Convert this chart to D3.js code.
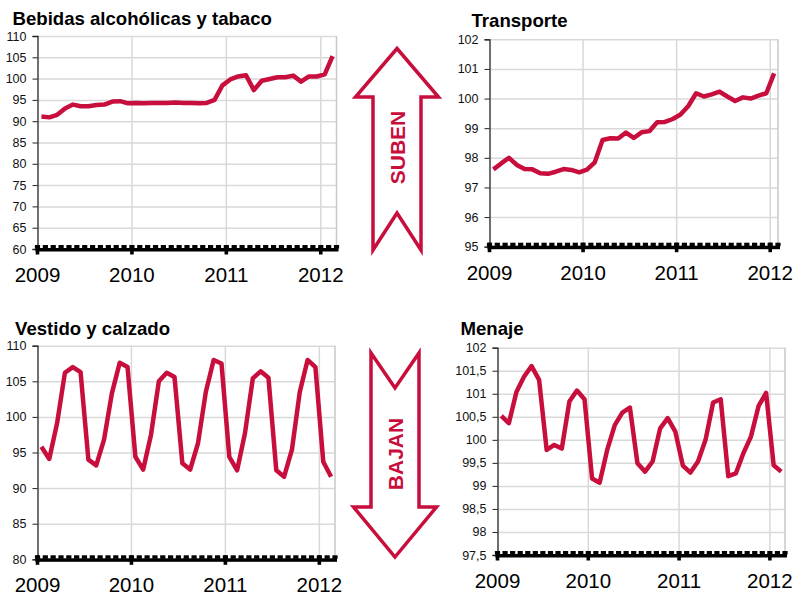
<!DOCTYPE html>
<html>
<head>
<meta charset="utf-8">
<script src="https://cdn.jsdelivr.net/npm/d3@7"></script>
<style>
body{margin:0;background:#fff}
svg{display:block}
text{font-family:"Liberation Sans",Arial,sans-serif}
</style>
</head>
<body>
<div id="chart"></div>
<script>
// monthly index values, Jan 2009 onwards
var years = ["2009", "2010", "2011", "2012"];

var bebidas = [91.1, 90.9, 91.5, 93.0, 93.9, 93.5, 93.5, 93.8, 93.9, 94.6, 94.7, 94.2,
	94.3, 94.2, 94.3, 94.3, 94.3, 94.4, 94.3, 94.3, 94.2, 94.3, 95.0, 98.4,
	99.8, 100.5, 100.8, 97.3, 99.5, 99.9, 100.3, 100.3, 100.7, 99.3, 100.5, 100.5,
	101.0, 105.3];
var transporte = [97.61, 97.81, 98.0, 97.76, 97.62, 97.61, 97.48, 97.46, 97.53, 97.62, 97.59, 97.51,
	97.6, 97.85, 98.6, 98.66, 98.65, 98.85, 98.67, 98.86, 98.9, 99.2, 99.21, 99.31,
	99.46, 99.75, 100.18, 100.07, 100.14, 100.23, 100.07, 99.92, 100.04, 100.0, 100.1, 100.18,
	100.85];
var vestido = [95.8, 94.1, 99.1, 106.2, 107.0, 106.3, 94.0, 93.2, 96.8, 103.3, 107.6, 107.0,
	94.4, 92.6, 97.5, 105.0, 106.2, 105.6, 93.5, 92.6, 96.3, 103.5, 108.0, 107.5,
	94.4, 92.5, 97.7, 105.4, 106.4, 105.5, 92.5, 91.6, 95.4, 103.5, 108.0, 107.0,
	93.7, 91.6];
var menaje = [100.52, 100.36, 101.04, 101.37, 101.6, 101.3, 99.78, 99.89, 99.81, 100.83, 101.07, 100.88,
	99.16, 99.07, 99.78, 100.32, 100.59, 100.7, 99.49, 99.31, 99.53, 100.25, 100.47, 100.18,
	99.44, 99.29, 99.53, 100.0, 100.81, 100.88, 99.21, 99.27, 99.71, 100.07, 100.73, 101.02,
	99.45, 99.31];

var bebidasTicks = [60, 65, 70, 75, 80, 85, 90, 95, 100, 105, 110];
var transporteTicks = [95, 96, 97, 98, 99, 100, 101, 102];
var vestidoTicks = [80, 85, 90, 95, 100, 105, 110];
var menajeTicks = [97.5, 98, 98.5, 99, 99.5, 100, 100.5, 101, 101.5, 102];

var red = "#c80e3c";
var commaFmt = function(d){ return String(d).replace(".", ","); };

var svg = d3.select("#chart").append("svg").attr("width", 797).attr("height", 595);

var panels = [
	{title:"Bebidas alcohólicas y tabaco", tx:12.5, ty:25, data:bebidas, ticks:bebidasTicks, fmt:commaFmt,
		x0:37.5, x1:336.5, y0:36, y1:249},
	{title:"Transporte", tx:471.5, ty:26.5, data:transporte, ticks:transporteTicks, fmt:commaFmt,
		x0:489.5, x1:778, y0:39.3, y1:246.7},
	{title:"Vestido y calzado", tx:15, ty:335, data:vestido, ticks:vestidoTicks, fmt:commaFmt,
		x0:37.5, x1:335, y0:345.7, y1:559.3},
	{title:"Menaje", tx:460.5, ty:335, data:menaje, ticks:menajeTicks, fmt:commaFmt,
		x0:497.5, x1:785, y0:347.7, y1:555}
];

function drawPanel(p)
{
	var g = svg.append("g");
	var n = p.data.length;
	var x = d3.scaleLinear().domain([0, n]).range([p.x0, p.x1]);
	var y = d3.scaleLinear().domain(d3.extent(p.ticks)).range([p.y1, p.y0]);
	var yearIdx = years.map(function(d, i){ return i * 12; });

	// horizontal grid
	var grid = g.append("g").attr("transform", "translate(" + p.x0 + ",0)")
		.call(d3.axisLeft(y).tickValues(p.ticks).tickSize(-(p.x1 - p.x0)).tickFormat(""));
	grid.select(".domain").remove();
	grid.selectAll("line").attr("stroke", "#d9d9d9").attr("stroke-width", 1.5);

	// vertical grid at year starts + right border
	g.selectAll(".vgrid").data(yearIdx.slice(1).concat([n])).enter().append("line")
		.attr("x1", function(d){ return x(d); }).attr("x2", function(d){ return x(d); })
		.attr("y1", p.y0).attr("y2", p.y1)
		.attr("stroke", function(d){ return d == n ? "#c8c8c8" : "#d9d9d9"; })
		.attr("stroke-width", 1.5);

	// left axis with labels
	var ax = g.append("g").attr("transform", "translate(" + p.x0 + ",0)")
		.call(d3.axisLeft(y).tickValues(p.ticks).tickSize(5).tickPadding(6).tickFormat(p.fmt));
	ax.select(".domain").attr("stroke", "#222").attr("stroke-width", 1.3);
	ax.selectAll(".tick line").attr("stroke", "#222");
	ax.selectAll("text").attr("fill", "#111").style("font-size", "12.5px")
		.style("font-family", "'Liberation Sans',Arial,sans-serif");

	// series line
	g.append("path").datum(p.data)
		.attr("d", d3.line().x(function(d, i){ return x(i + 0.5); }).y(function(d){ return y(d); }))
		.attr("fill", "none").attr("stroke", red).attr("stroke-width", 4.5)
		.attr("stroke-linejoin", "round");

	// heavy bottom axis with month notches
	g.append("rect").attr("x", x(0) - 2).attr("y", p.y1 - 1)
		.attr("width", x(n) - x(0) + 4).attr("height", 3.5).attr("fill", "#000");
	g.selectAll(".mtick").data(d3.range(n + 1)).enter().append("rect")
		.attr("x", function(d){ return x(d) - 2.6; }).attr("y", p.y1 - 4)
		.attr("width", 5.2).attr("height", 3.5).attr("fill", "#000");
	g.selectAll(".ytick").data(yearIdx).enter().append("rect")
		.attr("x", function(d){ return x(d) - 1.8; }).attr("y", p.y1 - 4)
		.attr("width", 3.6).attr("height", 9.5).attr("fill", "#000");

	// year labels
	g.selectAll(".ylab").data(years).enter().append("text")
		.attr("x", function(d, i){ return x(yearIdx[i]); }).attr("y", p.y1 + 33)
		.attr("text-anchor", "middle").style("font-size", "20.5px").attr("fill", "#000")
		.text(function(d){ return d; });

	// title
	g.append("text").attr("x", p.tx).attr("y", p.ty)
		.style("font-size", "18.6px").style("font-weight", "bold").attr("fill", "#000")
		.text(p.title);
}

panels.forEach(drawPanel);

// up / down arrows between the panels
function arrow(cx, tipY, headY, endY, notchY, label, ly)
{
	var hw = 41.5, sw = 24;
	var pts = [[cx, tipY], [cx + hw, headY], [cx + sw, headY], [cx + sw, endY],
		[cx, notchY], [cx - sw, endY], [cx - sw, headY], [cx - hw, headY]];
	svg.append("path").attr("d", d3.line()(pts) + "Z")
		.attr("fill", "#fff").attr("stroke", red).attr("stroke-width", 3.5)
		.attr("stroke-linejoin", "miter");
	svg.append("text").attr("transform", "translate(" + cx + "," + ly + ") rotate(-90)")
		.attr("text-anchor", "middle").attr("dominant-baseline", "central")
		.style("font-size", "21px").style("font-weight", "bold").attr("fill", red)
		.text(label);
}
arrow(397, 48.5, 97, 250, 213, "SUBEN", 147.5);
arrow(395, 557, 507, 353, 388, "BAJAN", 454);
</script>
</body>
</html>
